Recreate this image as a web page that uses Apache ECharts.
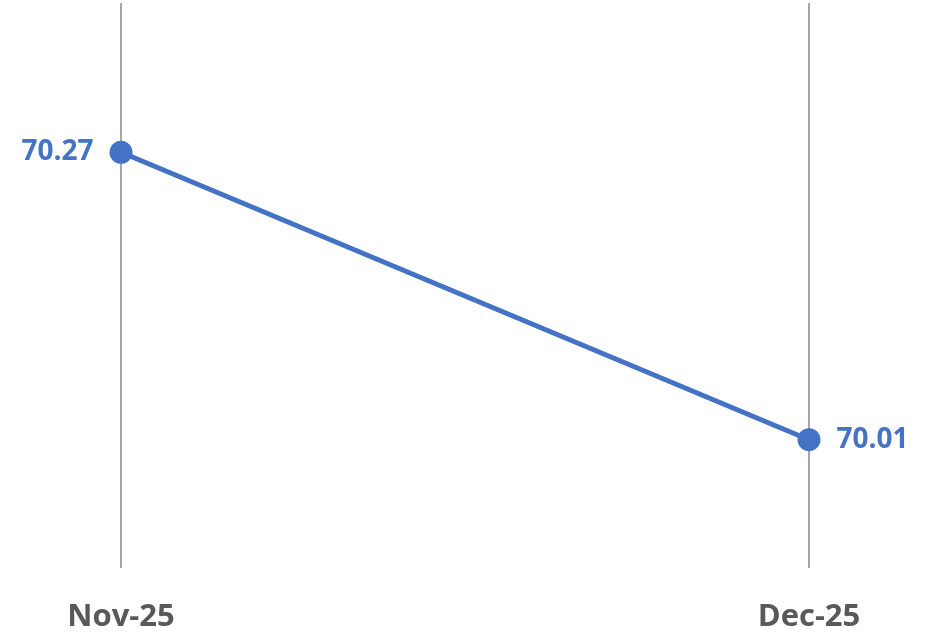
<!DOCTYPE html>
<html>
<head>
<meta charset="utf-8">
<script src="https://cdn.jsdelivr.net/npm/echarts@6/dist/echarts.min.js"></script>
<style>
  html, body { margin: 0; padding: 0; background: #ffffff; }
  #chart { width: 943px; height: 634px; }
</style>
</head>
<body>
<div id="chart"></div>
<script>
const categories = ['Nov-25', 'Dec-25'];
const values = [70.27, 70.01];
const labelPositions = ['left', 'right'];

const chart = echarts.init(document.getElementById('chart'), null, { renderer: 'canvas' });

chart.setOption({
  animation: false,
  backgroundColor: '#ffffff',
  grid: { left: 121, right: 134, top: 3, bottom: 66 },
  xAxis: {
    type: 'category',
    data: categories,
    boundaryGap: false,
    axisLine: { show: false },
    axisTick: { show: false },
    splitLine: { show: true, lineStyle: { color: '#a6a6a6', width: 2 } },
    axisLabel: {
      margin: 34,
      color: '#595959',
      fontFamily: 'Open Sans',
      fontWeight: 'bold',
      fontSize: 31
    }
  },
  yAxis: {
    type: 'value',
    min: 69.894,
    max: 70.405,
    show: false,
    splitLine: { show: false }
  },
  series: [{
    type: 'line',
    data: values.map((v, i) => ({
      value: v,
      label: { position: labelPositions[i] }
    })),
    symbol: 'circle',
    symbolSize: 23,
    itemStyle: { color: '#4472c4' },
    lineStyle: { color: '#4472c4', width: 5 },
    label: {
      show: true,
      distance: 16,
      color: '#4472c4',
      fontFamily: 'Open Sans',
      fontWeight: 'bold',
      fontSize: 28,
      formatter: p => p.value.toFixed(2)
    }
  }]
});
</script>
</body>
</html>
